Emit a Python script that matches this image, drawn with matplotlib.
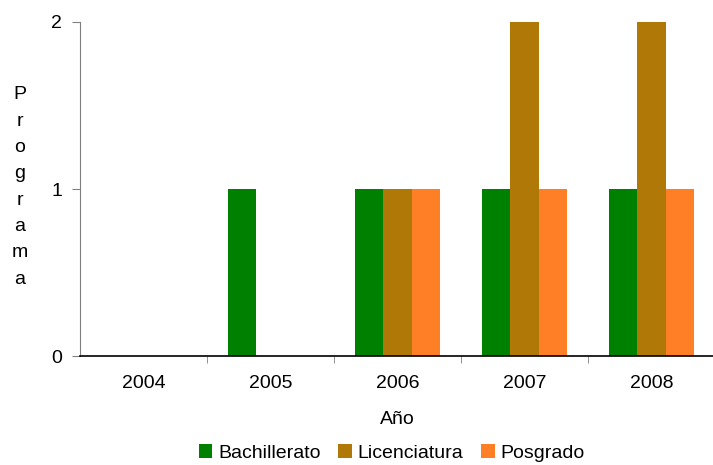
import matplotlib
matplotlib.use("Agg")
import matplotlib.pyplot as plt
import numpy as np

plt.rcParams['font.family'] = ['Liberation Sans', 'DejaVu Sans']

years = ["2004", "2005", "2006", "2007", "2008"]
bachillerato = [0, 1, 1, 1, 1]
licenciatura = [0, 0, 1, 2, 2]
posgrado = [0, 0, 1, 1, 1]

series = [("Bachillerato", bachillerato, "#008000"),
          ("Licenciatura", licenciatura, "#B07806"),
          ("Posgrado", posgrado, "#FF7F27")]

fs = 14

fig = plt.figure(figsize=(7.13, 4.65), dpi=100)
ax = fig.add_axes([80 / 713, 109 / 465, 635 / 713, 334 / 465])

x = np.arange(len(years))
w = 0.224
for i, (name, vals, col) in enumerate(series):
    ax.bar(x + (i - 1) * w, vals, width=w, color=col, label=name, linewidth=0)

ax.set_xlim(-0.5, len(years) - 0.5)
ax.set_ylim(0, 2)
ax.set_yticks([0, 1, 2])
ax.set_xticks(x)
ax.set_xticklabels(years)
ax.set_xticks(x[:-1] + 0.5, minor=True)

for s in ["top", "right"]:
    ax.spines[s].set_visible(False)
ax.spines["left"].set_color("#808080")
ax.spines["bottom"].set_color("black")
ax.spines["bottom"].set_linewidth(1.2)

ax.tick_params(axis="y", direction="out", length=6, color="#808080", labelsize=fs, pad=7)
ax.tick_params(axis="x", which="major", length=0, labelsize=fs, pad=14)
ax.tick_params(axis="x", which="minor", direction="out", length=5, color="#808080")

ax.set_xlabel("Año", fontsize=fs, labelpad=13)
fig.text(20 / 713, 1 - 187 / 465, "P\nr\no\ng\nr\na\nm\na", fontsize=fs,
         ha="center", va="center", linespacing=1.72)

ax.legend(loc="center", bbox_to_anchor=(0.491, -0.29), ncol=3, frameon=False,
          fontsize=fs, handlelength=0.7, handleheight=0.7, handletextpad=0.3,
          columnspacing=0.9, borderpad=0)

fig.savefig("out.png", dpi=100)
